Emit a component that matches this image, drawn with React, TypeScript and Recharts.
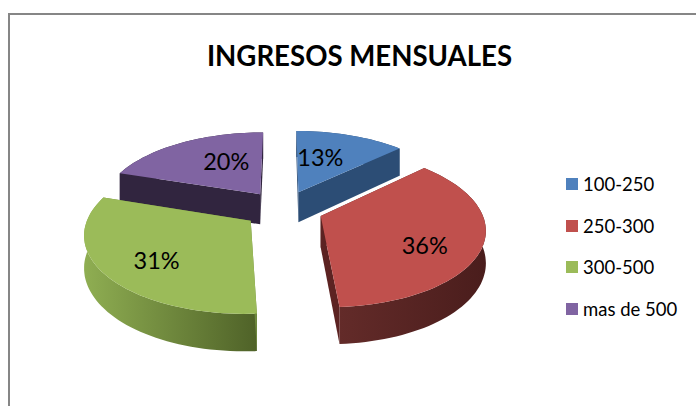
import { PieChart, Pie, Legend } from 'recharts';

const categories = ['100-250', '250-300', '300-500', 'mas de 500'];
const values = [13, 36, 31, 20];
const colors = ['#4f81bd', '#c0504d', '#9bbb59', '#8064a2'];
const sideColors = ['#2c4d75', '#5c2322', '#6f8a3f', '#31253f'];
const wallLeft = ['#2c4d75', '#632b29', '#8fae52', '#31253f'];
const wallRight = ['#2c4d75', '#4a1d1c', '#4f6228', '#31253f'];
// painted back to front, so the list starts at the purple slice
const paintOrder = [3, 0, 1, 2];

const data = paintOrder.map(i => ({ name: categories[i], value: values[i], fill: colors[i], idx: i }));

const labelOffsets = [[22, -35], [104, 29], [-94, 39], [-34, -33]];

const SQUASH = 0.47;
const PERSPECTIVE = 0.15;
const EXPLODE = 0.25;
const DEPTH = 31;

const project = (cx: number, cy: number, r: number, mid: number, angle: number, rad: number, drop = 0) => {
  const toRad = Math.PI / 180;
  const u = EXPLODE * Math.cos(mid * toRad) + rad * Math.cos(angle * toRad);
  const v = -EXPLODE * Math.sin(mid * toRad) - rad * Math.sin(angle * toRad);
  const w = 1 - PERSPECTIVE * v;
  return { x: cx + (r * u) / w, y: cy + (r * SQUASH * v + drop) / w };
};

const toPath = (pts: { x: number; y: number }[]) =>
  pts.map((p, i) => `${i === 0 ? 'M' : 'L'}${p.x.toFixed(1)},${p.y.toFixed(1)}`).join(' ') + ' Z';

const Slice3D = (props: any) => {
  const { cx, cy, outerRadius, startAngle, endAngle, midAngle, fill, payload } = props;
  const idx = payload.idx;
  const at = (angle: number, rad: number, drop = 0) => project(cx, cy, outerRadius, midAngle, angle, rad, drop);

  const arc: number[] = [];
  const steps = Math.ceil(Math.abs(endAngle - startAngle) / 2);
  for (let i = 0; i <= steps; i++) arc.push(startAngle + ((endAngle - startAngle) * i) / steps);

  const topRim = arc.map(a => at(a, 1));
  const lowRim = arc.map(a => at(a, 1, DEPTH));
  const apex = at(midAngle, 0);
  const apexLow = at(midAngle, 0, DEPTH);
  const xs = [...topRim, ...lowRim].map(p => p.x);
  const gradId = `wall-${idx}`;

  return (
    <g>
      <defs>
        <linearGradient id={gradId} gradientUnits="userSpaceOnUse" x1={Math.min(...xs)} x2={Math.max(...xs)} y1={0} y2={0}>
          <stop offset="0%" stopColor={wallLeft[idx]} />
          <stop offset="100%" stopColor={wallRight[idx]} />
        </linearGradient>
      </defs>
      <path d={toPath([...topRim, ...[...lowRim].reverse()])} fill={`url(#${gradId})`} />
      <path d={toPath([apex, topRim[0], lowRim[0], apexLow])} fill={sideColors[idx]} />
      <path d={toPath([apex, topRim[steps], lowRim[steps], apexLow])} fill={sideColors[idx]} />
      <path d={toPath([apex, ...topRim])} fill={fill} />
    </g>
  );
};

const renderLabel = (props: any) => {
  const { cx, cy, outerRadius, midAngle, percent, payload } = props;
  const apex = project(cx, cy, outerRadius, midAngle, midAngle, 0);
  const [dx, dy] = labelOffsets[payload.idx];
  return (
    <text x={apex.x + dx} y={apex.y + dy} textAnchor="middle" dominantBaseline="central" fontSize={23.5} fontFamily="Lato" fill="#000">
      {`${Math.round(percent * 100)}%`}
    </text>
  );
};

const renderLegend = (props: any) => (
  <div>
    {props.payload.map((entry: any) => (
      <div key={entry.value} style={{ display: 'flex', alignItems: 'center', height: 41.7, fontFamily: 'Lato', fontSize: 18.5, color: '#000' }}>
        <span style={{ width: 12, height: 12, marginRight: 5, background: entry.color, display: 'inline-block' }} />
        {entry.value}
      </div>
    ))}
  </div>
);

export default function App() {
  return (
    <div style={{ position: 'fixed', left: 0, top: 0, width: 696, height: 406, background: '#fff', overflow: 'hidden' }}>
      <div style={{ position: 'absolute', left: 8, top: 13, width: 700, height: 400, borderLeft: '2px solid #868686', borderTop: '2px solid #868686' }} />
      <div style={{ position: 'absolute', left: 0, top: 0 }}>
        <PieChart width={696} height={406}>
          <text x={359.5} y={55} textAnchor="middle" dominantBaseline="central" fontSize={27.6} fontWeight={700} fontFamily="Lato" fill="#000">
            INGRESOS MENSUALES
          </text>
          <Pie
            data={data}
            dataKey="value"
            nameKey="name"
            cx={278}
            cy={204}
            outerRadius={160}
            startAngle={162}
            endAngle={-198}
            stroke="none"
            shape={Slice3D}
            label={renderLabel}
            labelLine={false}
            isAnimationActive={false}
          />
          <Legend
            layout="vertical"
            align="right"
            verticalAlign="top"
            content={renderLegend}
            wrapperStyle={{ left: 566, top: 163, width: 130 }}
          />
        </PieChart>
      </div>
    </div>
  );
}
